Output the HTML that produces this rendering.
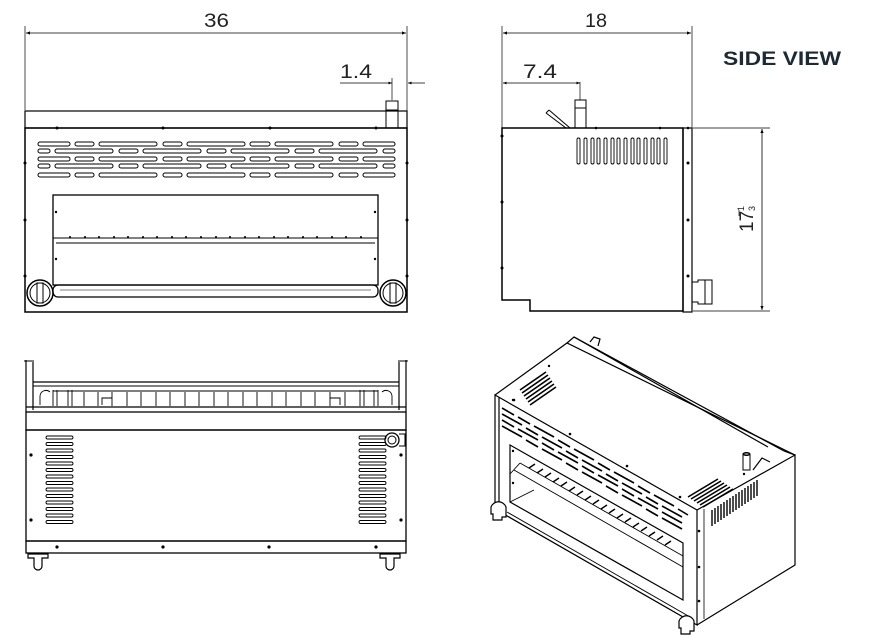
<!DOCTYPE html>
<html><head><meta charset="utf-8"><style>
html,body{margin:0;padding:0;background:#fff;}
svg{display:block}
text{font-family:"Liberation Sans",sans-serif;}
</style></head><body>
<svg width="879" height="637" viewBox="0 0 879 637" xmlns="http://www.w3.org/2000/svg">
<defs>
<marker id="ar" viewBox="0 0 10 10" refX="10" refY="5" markerWidth="7" markerHeight="5" orient="auto-start-reverse"><path d="M0,1 L10,5 L0,9 z" fill="#000"/></marker>
</defs>
<g fill="none" stroke="#000" stroke-width="1">
<!-- FRONT VIEW -->
<line x1="25" y1="26" x2="25" y2="110" stroke-width="0.7"/>
<line x1="407" y1="26" x2="407" y2="128" stroke-width="0.7"/>
<line x1="26" y1="33" x2="406" y2="33" stroke-width="0.8" marker-start="url(#ar)" marker-end="url(#ar)"/>
<line x1="340" y1="83" x2="392" y2="83" stroke-width="0.7" marker-end="url(#ar)"/>
<line x1="425" y1="83" x2="408" y2="83" stroke-width="0.7" marker-end="url(#ar)"/>
<line x1="392" y1="78" x2="392" y2="100" stroke-width="0.7"/>
<rect x="25" y="111" width="382" height="17" stroke-width="1.2"/>
<rect x="386" y="101" width="12" height="27" stroke-width="1"/>
<line x1="386" y1="110" x2="398" y2="110"/>
<rect x="25" y="128" width="382" height="184" stroke-width="1.5"/>
<g stroke-width="1">
<g id="rA">
<rect x="38" y="142" width="32" height="4" rx="2"/><rect x="75" y="142" width="19" height="4" rx="2"/><rect x="99" y="142" width="58" height="4" rx="2"/><rect x="163" y="142" width="19" height="4" rx="2"/><rect x="187" y="142" width="58" height="4" rx="2"/><rect x="250" y="142" width="20" height="4" rx="2"/><rect x="275" y="142" width="58" height="4" rx="2"/><rect x="339" y="142" width="19" height="4" rx="2"/><rect x="363" y="142" width="32" height="4" rx="2"/>
</g>
<g id="rB">
<rect x="38" y="149" width="12" height="4" rx="2"/><rect x="55" y="149" width="58" height="4" rx="2"/><rect x="119" y="149" width="19" height="4" rx="2"/><rect x="143" y="149" width="58" height="4" rx="2"/><rect x="207" y="149" width="19" height="4" rx="2"/><rect x="231" y="149" width="58" height="4" rx="2"/><rect x="295" y="149" width="19" height="4" rx="2"/><rect x="319" y="149" width="58" height="4" rx="2"/><rect x="383" y="149" width="12" height="4" rx="2"/>
</g>
<use href="#rA" y="15"/><use href="#rB" y="15"/><use href="#rA" y="31"/>
</g>
<rect x="53" y="195" width="325" height="90" stroke-width="1.3"/>
<line x1="53" y1="238" x2="378" y2="238"/><line x1="56" y1="243" x2="375" y2="243"/>
<rect x="53" y="285" width="325" height="12" rx="5" stroke-width="1.3"/>
<line x1="60" y1="290" x2="371" y2="290" stroke-width="0.6"/>
<circle cx="40" cy="293" r="13" stroke-width="1.5"/><circle cx="40" cy="293" r="10"/><rect x="37" y="283" width="6" height="20"/>
<circle cx="393" cy="293" r="13" stroke-width="1.5"/><circle cx="393" cy="293" r="10"/><rect x="390" y="283" width="6" height="20"/>
<g fill="#000" stroke="none">
<circle cx="57" cy="128" r="1.5"/><circle cx="163" cy="128" r="1.5"/><circle cx="270" cy="128" r="1.5"/><circle cx="376" cy="128" r="1.5"/>
<circle cx="25" cy="163" r="1.5"/><circle cx="407" cy="163" r="1.5"/><circle cx="25" cy="220" r="1.5"/><circle cx="407" cy="220" r="1.5"/><circle cx="25" cy="276" r="1.5"/><circle cx="407" cy="276" r="1.5"/>
<circle cx="56" cy="212" r="1.2"/><circle cx="375" cy="212" r="1.2"/><circle cx="56" cy="259" r="1.2"/><circle cx="375" cy="259" r="1.2"/>
</g>
<g fill="#000" stroke="none">
<circle cx="70" cy="237" r="1"/><circle cx="85" cy="237" r="1"/><circle cx="99" cy="237" r="1"/><circle cx="114" cy="237" r="1"/><circle cx="128" cy="237" r="1"/><circle cx="143" cy="237" r="1"/><circle cx="157" cy="237" r="1"/><circle cx="172" cy="237" r="1"/><circle cx="186" cy="237" r="1"/><circle cx="201" cy="237" r="1"/><circle cx="216" cy="237" r="1"/><circle cx="230" cy="237" r="1"/><circle cx="245" cy="237" r="1"/><circle cx="259" cy="237" r="1"/><circle cx="274" cy="237" r="1"/><circle cx="288" cy="237" r="1"/><circle cx="303" cy="237" r="1"/><circle cx="317" cy="237" r="1"/><circle cx="332" cy="237" r="1"/><circle cx="346" cy="237" r="1"/><circle cx="361" cy="237" r="1"/>
</g>

<!-- SIDE VIEW -->
<line x1="502" y1="26" x2="502" y2="128" stroke-width="0.7"/>
<line x1="692" y1="26" x2="692" y2="128" stroke-width="0.7"/>
<line x1="503" y1="33" x2="691" y2="33" stroke-width="0.8" marker-start="url(#ar)" marker-end="url(#ar)"/>
<line x1="503" y1="83" x2="580" y2="83" stroke-width="0.7" marker-start="url(#ar)" marker-end="url(#ar)"/>
<line x1="580" y1="82" x2="580" y2="100" stroke-width="0.7"/>
<path d="M502,128 H683 V311 H530 V300 H502 Z" stroke-width="1.5"/>
<rect x="683" y="128" width="9" height="184" stroke-width="1.2"/>
<rect x="575" y="100" width="11" height="28"/><line x1="575" y1="108" x2="586" y2="108"/>
<path d="M546,113 L566,128 M549,110 L570,128 M546,113 L549,110"/>
<path d="M692,282 H698 V280 H712 V304 H698 V302 H692"/><line x1="705" y1="280" x2="705" y2="304"/>
<g stroke-width="0.9">
<rect x="577" y="138" width="3" height="26" rx="1.5"/><rect x="584" y="138" width="3" height="26" rx="1.5"/><rect x="591" y="138" width="3" height="26" rx="1.5"/><rect x="597" y="138" width="3" height="26" rx="1.5"/><rect x="604" y="138" width="3" height="26" rx="1.5"/><rect x="611" y="138" width="3" height="26" rx="1.5"/><rect x="617" y="138" width="3" height="26" rx="1.5"/><rect x="624" y="138" width="3" height="26" rx="1.5"/><rect x="631" y="138" width="3" height="26" rx="1.5"/><rect x="637" y="138" width="3" height="26" rx="1.5"/><rect x="644" y="138" width="3" height="26" rx="1.5"/><rect x="651" y="138" width="3" height="26" rx="1.5"/><rect x="657" y="138" width="3" height="26" rx="1.5"/><rect x="664" y="138" width="3" height="26" rx="1.5"/>
</g>
<g fill="#000" stroke="none">
<circle cx="502" cy="136" r="1.5"/><circle cx="502" cy="202" r="1.5"/><circle cx="502" cy="268" r="1.5"/>
<circle cx="688" cy="163" r="1.5"/><circle cx="688" cy="220" r="1.5"/><circle cx="688" cy="276" r="1.5"/>
<circle cx="596" cy="128" r="1.3"/><circle cx="660" cy="128" r="1.3"/><circle cx="688" cy="128" r="1.3"/>
</g>
<line x1="693" y1="128" x2="770" y2="128" stroke-width="0.7"/>
<line x1="693" y1="311" x2="770" y2="311" stroke-width="0.7"/>
<line x1="762" y1="129" x2="762" y2="310" stroke-width="0.8" marker-start="url(#ar)" marker-end="url(#ar)"/>

<!-- REAR VIEW -->
<path d="M26,360 V412 M33,362 V410 M399,362 V410 M406,360 V412" stroke-width="1.2"/>
<path d="M24,361 h10 M398,361 h10"/>
<line x1="33" y1="382" x2="399" y2="382" stroke-width="1.2"/>
<line x1="33" y1="386" x2="399" y2="386"/>
<line x1="26" y1="407" x2="406" y2="407" stroke-width="1.2"/>
<g stroke-width="0.9">
<path d="M53,390 V406 M57,390 V406 M68,390 V406 M72,390 V406 M84,392 V406 M98,392 V406 M112,392 V406 M127,392 V406 M141,392 V406 M156,392 V406 M170,392 V406 M185,392 V406 M199,392 V406 M214,392 V406 M228,392 V406 M243,392 V406 M257,392 V406 M272,392 V406 M286,392 V406 M301,392 V406 M315,392 V406 M330,392 V406 M345,392 V406 M360,390 V406 M364,390 V406 M374,390 V406 M378,390 V406"/>
<line x1="53" y1="391" x2="378" y2="391"/>
<path d="M40,405 V396 a6,6 0 0 1 10,-4 M392,405 V396 a6,6 0 0 0 -10,-4"/>
<path d="M102,405 V398 h10 M340,405 V398 h-10"/>
</g>
<rect x="26" y="412" width="380" height="18" stroke-width="1.3"/>
<rect x="26" y="430" width="380" height="111" stroke-width="1.3"/>
<rect x="26" y="541" width="380" height="12" stroke-width="1.3"/>
<g stroke-width="0.9">
<g id="lv">
<rect x="46" y="436" width="27" height="3" rx="1.5"/><rect x="46" y="442.5" width="27" height="3" rx="1.5"/><rect x="46" y="449" width="27" height="3" rx="1.5"/><rect x="46" y="455.5" width="27" height="3" rx="1.5"/><rect x="46" y="462" width="27" height="3" rx="1.5"/><rect x="46" y="468.5" width="27" height="3" rx="1.5"/><rect x="46" y="475" width="27" height="3" rx="1.5"/><rect x="46" y="481.5" width="27" height="3" rx="1.5"/><rect x="46" y="488" width="27" height="3" rx="1.5"/><rect x="46" y="494.5" width="27" height="3" rx="1.5"/><rect x="46" y="501" width="27" height="3" rx="1.5"/><rect x="46" y="507.5" width="27" height="3" rx="1.5"/><rect x="46" y="514" width="27" height="3" rx="1.5"/><rect x="46" y="520.5" width="27" height="3" rx="1.5"/>
</g>
<use href="#lv" x="313"/>
</g>
<circle cx="392" cy="440" r="7" stroke-width="1.3"/><circle cx="392" cy="440" r="4"/>
<path d="M399,434 h6 v12 h-6"/>
<g fill="#000" stroke="none">
<circle cx="31" cy="455" r="1.6"/><circle cx="31" cy="520" r="1.6"/><circle cx="401" cy="455" r="1.6"/><circle cx="401" cy="520" r="1.6"/>
<circle cx="57" cy="547" r="1.6"/><circle cx="163" cy="547" r="1.6"/><circle cx="269" cy="547" r="1.6"/><circle cx="376" cy="547" r="1.6"/>
</g>
<path d="M28,554 h20 v4 h-6 v8 a4,4 0 0 1 -8,0 v-8 h-6 z" stroke-width="1.2"/>
<path d="M380,554 h20 v4 h-6 v8 a4,4 0 0 1 -8,0 v-8 h-6 z" stroke-width="1.2"/>

<!-- ISO VIEW -->
<g stroke-width="1.2">
<path d="M495,395 L697,510 L697,625 L495,509 Z"/>
<path d="M697,510 L795,455 L795,565 L697,625"/>
<path d="M495,395 L567,343 L795,455"/>
<path d="M567,343 L574,337 L784,451 L795,455"/>
<path d="M574,337 L768,447"/>
<path d="M590,342 L594,337 L600,339 L598,346"/>
<path d="M753,470 L762,458 L770,462"/>
<path d="M499,397 L499,509"/>
<path d="M510,445 L683,543 L683,600 L510,502 Z"/>
<path d="M514,470 L683,567" stroke-width="0.9"/>
<path d="M520,463 L683,556" stroke-width="0.9"/>
<path d="M507,512 L690,617 M507,516 L690,621" stroke-width="0.9"/>
<path d="M510,502 L534,490 M510,474 L520,463" stroke-width="0.9"/>
</g>
<rect x="743" y="454" width="7" height="16" stroke-width="1"/>
<ellipse cx="746.5" cy="454" rx="3.5" ry="1.5"/>
<g stroke-width="1.4">
<path d="M529,468 l6,-4 M537,473 l6,-4 M545,477 l6,-4 M553,482 l6,-4 M561,486 l6,-4 M569,491 l6,-4 M577,495 l6,-4 M585,500 l6,-4 M593,504 l6,-4 M601,509 l6,-4 M609,513 l6,-4 M617,518 l6,-4 M625,522 l6,-4 M633,527 l6,-4 M641,531 l6,-4 M649,536 l6,-4 M657,540 l6,-4 M665,545 l6,-4"/>
</g>
<g stroke-width="1.6">
<path d="M502,408 l12,7 M518,417 l12,7 M534,426 l20,11 M558,440 l12,7 M574,449 l20,11 M598,463 l12,7 M614,472 l20,11 M638,486 l12,7 M654,495 l20,11 M678,509 l10,6"/>
<path d="M502,414 l20,11 M526,428 l12,7 M542,437 l20,11 M566,451 l12,7 M582,460 l20,11 M606,474 l12,7 M622,483 l20,11 M646,497 l12,7 M662,506 l20,11"/>
<path d="M502,420 l12,7 M518,429 l20,11 M542,443 l12,7 M558,452 l20,11 M582,466 l12,7 M598,475 l20,11 M622,489 l12,7 M638,498 l20,11 M662,512 l20,11"/>
<path d="M502,426 l20,11 M526,440 l12,7 M542,449 l20,11 M566,463 l12,7 M582,472 l20,11 M606,486 l12,7 M622,495 l20,11 M646,509 l12,7 M662,518 l20,11"/>
<path d="M520,390 l26,-18 M522,393 l26,-18 M524,396 l26,-18 M526,399 l26,-18 M528,402 l26,-18 M530,405 l26,-18"/>
<path d="M688,497 l30,-18 M691,499 l30,-18 M694,501 l30,-18 M697,503 l30,-18 M700,505 l30,-18 M703,507 l30,-18"/>
</g>
<g stroke-width="1.4">
<path d="M712,510 v16 M715,508 v16 M718,506 v16 M721,504 v16 M724,502 v16 M727,500 v16 M730,498 v16 M733,496 v16 M736,494 v16 M739,492 v16 M742,490 v16 M745,488 v16 M748,486 v16 M751,484 v16 M754,482 v16 M757,480 v16"/>
</g>
<g fill="#fff" stroke-width="1.2">
<path d="M491,507 a8,8 0 0 1 15,0 v10 h-4 v3 h-9 v-6 h-2 z"/>
<path d="M679,621 a8,8 0 0 1 15,0 v10 h-4 v3 h-9 v-6 h-2 z"/>
</g>
<path d="M704,509 v110" stroke-width="0.8"/>
<g fill="#000" stroke="none">
<circle cx="514" cy="400" r="1.3"/><circle cx="570" cy="434" r="1.3"/><circle cx="627" cy="466" r="1.3"/><circle cx="680" cy="497" r="1.3"/>
<circle cx="513" cy="400" r="1.2"/><circle cx="549" cy="366" r="1.2"/><circle cx="744" cy="474" r="1.2"/>
<circle cx="699" cy="531" r="1.3"/><circle cx="699" cy="567" r="1.3"/><circle cx="699" cy="601" r="1.3"/>
<circle cx="513" cy="451" r="1.2"/><circle cx="513" cy="483" r="1.2"/>
</g>
</g>
<text x="204" y="27" font-size="19" fill="#222" textLength="25" lengthAdjust="spacingAndGlyphs">36</text>
<text x="340" y="78" font-size="19" fill="#222" textLength="32" lengthAdjust="spacingAndGlyphs">1.4</text>
<text x="585" y="27" font-size="19" fill="#222" textLength="22" lengthAdjust="spacingAndGlyphs">18</text>
<text x="523" y="78" font-size="19" fill="#222" textLength="34" lengthAdjust="spacingAndGlyphs">7.4</text>
<text x="723" y="65" font-size="19" font-weight="bold" fill="#1d2a35" textLength="118" lengthAdjust="spacingAndGlyphs">SIDE VIEW</text>
<g transform="translate(753,232) rotate(-90)">
<text x="0" y="0" font-size="19" fill="#222">17</text>
<text x="21" y="-9" font-size="9" fill="#222">1</text>
<text x="21" y="2" font-size="9" fill="#222">3</text>
</g>
<line x1="739" y1="210" x2="739" y2="216" stroke="#222" stroke-width="0.8"/>
</svg>
</body></html>
